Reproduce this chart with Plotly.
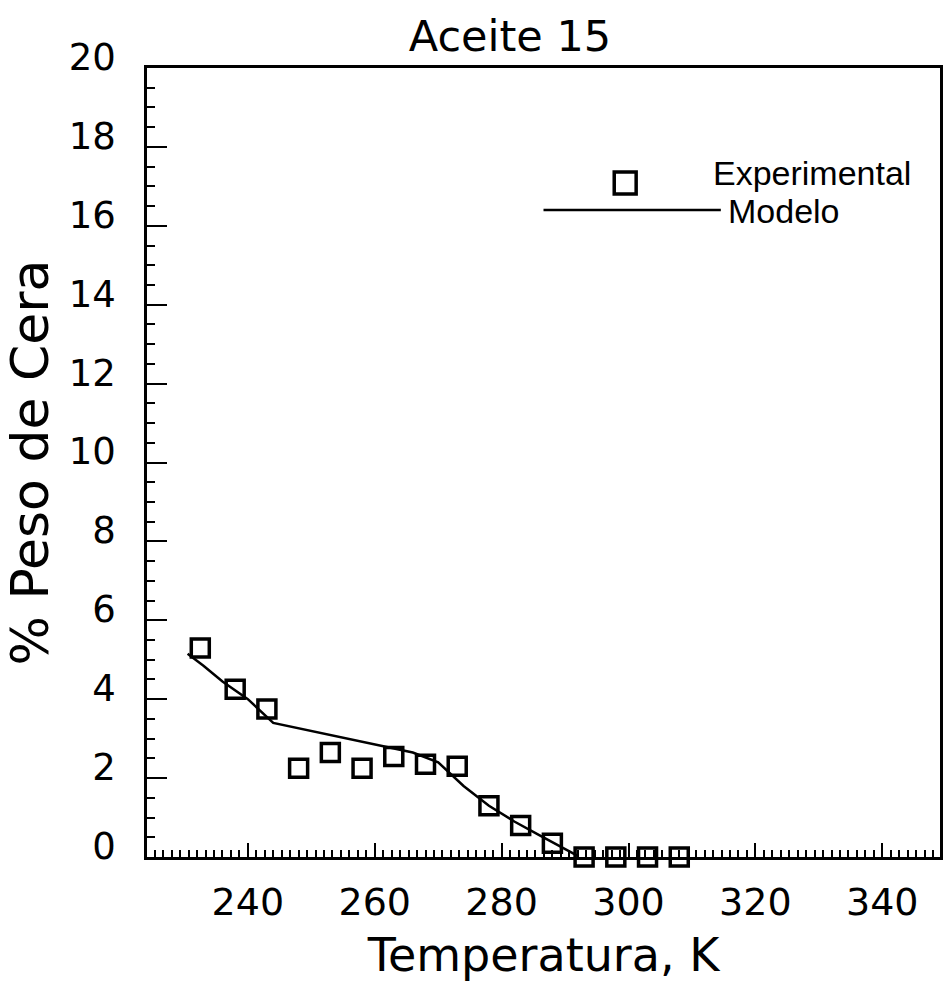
import plotly.graph_objects as go

temp_exp = [232.5, 238, 243, 248, 253, 258, 263, 268, 273, 278, 283, 288, 293, 298, 303, 308]
wax_exp = [5.3, 4.25, 3.75, 2.25, 2.65, 2.25, 2.55, 2.35, 2.3, 1.3, 0.8, 0.35, 0.0, 0.0, 0.0, 0.0]

# Model curve
temp_mod = [230.5, 233, 236, 240, 244, 250, 256, 262, 266, 270, 274, 278, 282, 286, 290, 292]
wax_mod = [5.15, 4.85, 4.45, 4.0, 3.4, 3.2, 3.0, 2.8, 2.65, 2.4, 1.8, 1.3, 0.9, 0.55, 0.2, 0.03]

x_ticks = [240, 260, 280, 300, 320, 340]
y_ticks = [0, 2, 4, 6, 8, 10, 12, 14, 16, 18, 20]

title_text = "Aceite 15"
x_title = "Temperatura, K"
y_title = "% Peso de Cera"
legend_exp = "Experimental"
legend_mod = "Modelo"

W, H = 950, 991
L, R, T, B = 147, 7, 68, 134
pw = W - L - R
ph = H - T - B

def px_x(p):
    return (p - L) / pw

def px_y(p):
    return (H - B - p) / ph

fig = go.Figure()
fig.add_trace(go.Scatter(
    x=temp_mod, y=wax_mod, mode="lines", name=legend_mod,
    line=dict(color="black", width=2.5), showlegend=False,
))
fig.add_trace(go.Scatter(
    x=temp_exp, y=wax_exp, mode="markers", name=legend_exp,
    marker=dict(symbol="square-open", size=18, color="black",
                line=dict(color="black", width=3.5)),
    showlegend=False, cliponaxis=False,
))

font_round = "DejaVu Sans"
font_narrow = "Liberation Sans"

fig.update_layout(
    width=W, height=H,
    margin=dict(l=L, r=R, t=T, b=B),
    paper_bgcolor="white", plot_bgcolor="white",
    title=dict(text=title_text, x=510 / W, xref="container", xanchor="center",
               y=1 - 36 / H, yref="container", yanchor="middle",
               font=dict(family=font_round, size=43, color="black")),
    xaxis=dict(
        range=[224.1, 349.1], tickvals=x_ticks, ticktext=[str(v) for v in x_ticks],
        ticks="inside", ticklen=14, tickwidth=2, tickcolor="black",
        minor=dict(dtick=4 / 3, tick0=240, ticks="inside", ticklen=7, tickwidth=2, tickcolor="black"),
        showline=True, linecolor="black", linewidth=2.5, mirror=True,
        showgrid=False, zeroline=False,
        tickfont=dict(family=font_round, size=38, color="black"),
        ticklabelstandoff=10,
        title=dict(text=x_title, font=dict(family=font_round, size=46, color="black"), standoff=16),
    ),
    yaxis=dict(
        range=[0, 20], tickvals=y_ticks, ticktext=[str(v) for v in y_ticks],
        ticks="inside", ticklen=20, tickwidth=2, tickcolor="black",
        minor=dict(dtick=0.5, ticks="inside", ticklen=8, tickwidth=2, tickcolor="black"),
        showline=True, linecolor="black", linewidth=2.5, mirror=True,
        showgrid=False, zeroline=False,
        tickfont=dict(family=font_round, size=37, color="black"),
        ticklabelstandoff=21, ticklabelshift=-11,
        title=dict(text=y_title, font=dict(family=font_round, size=52, color="black"), standoff=10),
    ),
    shapes=[
        dict(type="rect", xref="paper", yref="paper",
             x0=px_x(616), x1=px_x(638), y0=px_y(194), y1=px_y(172),
             line=dict(color="black", width=3.5)),
        dict(type="line", xref="paper", yref="paper",
             x0=px_x(545), x1=px_x(723), y0=px_y(210), y1=px_y(210),
             line=dict(color="black", width=2.5)),
    ],
    annotations=[
        dict(text=legend_exp, xref="paper", yref="paper", x=px_x(713), y=px_y(173),
             xanchor="left", yanchor="middle", showarrow=False,
             font=dict(family=font_narrow, size=34, color="black")),
        dict(text=legend_mod, xref="paper", yref="paper", x=px_x(728), y=px_y(211),
             xanchor="left", yanchor="middle", showarrow=False,
             font=dict(family=font_narrow, size=34, color="black")),
    ],
)

fig.write_html("out.html")
